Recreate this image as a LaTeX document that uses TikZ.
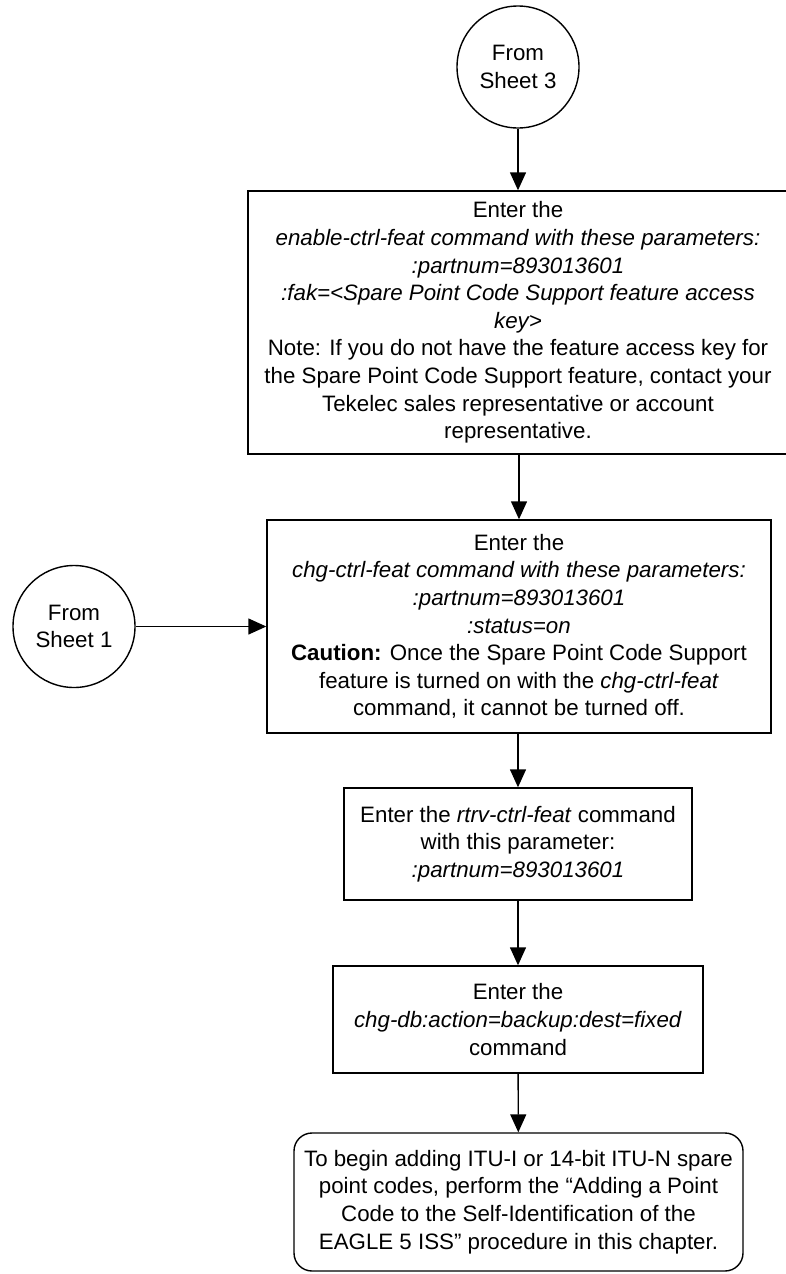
\documentclass[tikz,border=0pt]{standalone}
\usepackage{fontspec}
\setmainfont{Liberation Sans}
\usetikzlibrary{arrows.meta}
\begin{document}
\begin{tikzpicture}[x=1pt,y=-1pt,
  every node/.style={font=\fontsize{22.3}{27.6}\selectfont, align=center, inner sep=0pt},
  conn/.style={draw, circle, line width=1.4pt, minimum size=122pt},
  stepbox/.style={draw, rectangle, line width=1.4pt},
  endbox/.style={draw, rectangle, rounded corners=18pt, line width=1.4pt},
  flow/.style={line width=1.4pt, -{Triangle[length=18pt,width=16pt]}}]
\useasboundingbox (0,0) rectangle (785,1274);

\node[conn] (s3) at (518,67) {From\\Sheet 3};

\node[stepbox, minimum width=540pt, minimum height=263pt] (b1) at (518,322.5)
 {Enter the\\
  \textit{enable-ctrl-feat command with these parameters:}\\
  \textit{:partnum=893013601}\\
  \textit{:fak=<Spare Point Code Support feature access}\\
  \textit{key>}\\
  Note: If you do not have the feature access key for\\
  the Spare Point Code Support feature, contact your\\
  Tekelec sales representative or account\\
  representative.};

\node[conn] (s1) at (74,626.5) {From\\Sheet 1};

\node[stepbox, minimum width=504pt, minimum height=213pt] (b2) at (519,626.5)
 {Enter the\\
  \textit{chg-ctrl-feat command with these parameters:}\\
  \textit{:partnum=893013601}\\
  \textit{:status=on}\\
  \textbf{Caution:} Once the Spare Point Code Support\\
  feature is turned on with the \textit{chg-ctrl-feat}\\
  command, it cannot be turned off.};

\node[stepbox, minimum width=348pt, minimum height=112pt] (b3) at (518,844)
 {Enter the \textit{rtrv-ctrl-feat} command\\
  with this parameter:\\
  \textit{:partnum=893013601}};

\node[stepbox, minimum width=370pt, minimum height=107pt] (b4) at (518,1019.5)
 {Enter the\\
  \textit{chg-db:action=backup:dest=fixed}\\
  command};

\node[endbox, minimum width=449pt, minimum height=138pt] (t) at (518.5,1202)
 {To begin adding ITU-I or 14-bit ITU-N spare\\
  point codes, perform the “Adding a Point\\
  Code to the Self-Identification of the\\
  EAGLE 5 ISS” procedure in this chapter.};

\draw[flow] (s3) -- (s3 |- b1.north);
\draw[flow] (b1.south -| b2.north) -- (b2.north);
\draw[flow] (s1) -- (b2);
\draw[flow] (b2.south -| b3.north) -- (b3.north);
\draw[flow] (b3) -- (b4);
\draw[flow] (b4) -- (t);
\end{tikzpicture}
\end{document}
